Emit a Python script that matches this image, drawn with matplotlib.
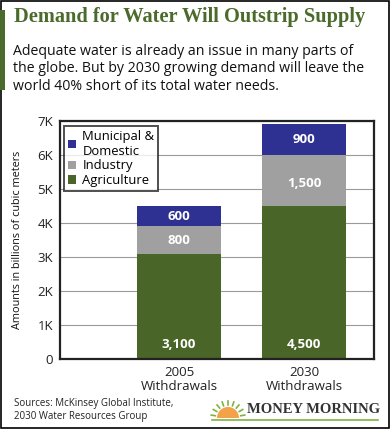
import matplotlib
matplotlib.use("Agg")
import matplotlib.pyplot as plt
from matplotlib.patches import Rectangle, Wedge
import numpy as np

# data
years = ["2005\nWithdrawals", "2030\nWithdrawals"]
agriculture = [3100, 4500]
industry = [800, 1500]
municipal = [600, 900]
yticks = [0, 1000, 2000, 3000, 4000, 5000, 6000, 7000]
ytick_labels = ["0", "1K", "2K", "3K", "4K", "5K", "6K", "7K"]

blue, grey, green = "#2e3192", "#a0a0a0", "#496628"
title_green = "#4b6b2c"
W, H = 390, 429

fig = plt.figure(figsize=(3.9, 4.29), dpi=100)

# border + left accent bar
fig.patches.append(Rectangle((0.002, 0.002), 0.996, 0.996, transform=fig.transFigure,
                             fill=False, ec="black", lw=1.2))
fig.patches.append(Rectangle((0, 1 - 90 / H), 5 / W, 80 / H, transform=fig.transFigure,
                             fc=title_green, ec="none"))

fig.text(14 / W, 1 - 17 / H, "Demand for Water Will Outstrip Supply", fontsize=14.7,
         family="Liberation Serif", weight="bold", color=title_green, va="center")
fig.text(13 / W, 1 - 69 / H,
         "Adequate water is already an issue in many parts of\n"
         "the globe. But by 2030 growing demand will leave the\n"
         "world 40% short of its total water needs.",
         fontsize=10.2, family="Open Sans", color="#111111", va="center", linespacing=1.2)

ax = fig.add_axes([60 / W, 70 / H, 314 / W, 238 / H])
x = np.arange(len(years))
w = 0.67
b1 = ax.bar(x, agriculture, w, color=green, label="Agriculture", zorder=2)
b2 = ax.bar(x, industry, w, bottom=agriculture, color=grey, label="Industry", zorder=2)
bottom2 = [a + i for a, i in zip(agriculture, industry)]
b3 = ax.bar(x, municipal, w, bottom=bottom2, color=blue, label="Municipal &\nDomestic", zorder=2)

for i in range(len(years)):
    ax.text(x[i], 440, f"{agriculture[i]:,}", ha="center", va="center", color="white",
            fontsize=9.5, weight="bold", family="Open Sans")
    ax.text(x[i], agriculture[i] + industry[i] / 2 - 100 * (industry[i] > 1000),
            f"{industry[i]:,}", ha="center",
            va="center", color="white", fontsize=9.5, weight="bold", family="Open Sans")
    ax.text(x[i], bottom2[i] + municipal[i] / 2, f"{municipal[i]:,}", ha="center",
            va="center", color="white", fontsize=9.5, weight="bold", family="Open Sans")

ax.set_xlim(-0.952, 1.56)
ax.set_ylim(0, 7000)
ax.set_yticks(yticks)
ax.set_yticklabels(ytick_labels, family="Open Sans", fontsize=9.5, color="#222222")
ax.set_xticks(x)
ax.set_xticklabels(years, family="Open Sans", fontsize=9.5, color="#222222", linespacing=1.15)
ax.tick_params(length=0, pad=5)
ax.grid(axis="y", color="#9a9a9a", lw=0.8, zorder=0)
for s in ax.spines.values():
    s.set_linewidth(1.6)
    s.set_color("#222222")
ax.set_ylabel("Amounts in billions of cubic meters", family="Open Sans", fontsize=7.8,
              labelpad=10, color="#111111")

leg = ax.legend(handles=[b3, b2, b1], loc="upper left", bbox_to_anchor=(0.005, 0.99),
                prop={"family": "Open Sans", "size": 9.4}, frameon=True, fancybox=False,
                handlelength=0.6, handleheight=0.6, handletextpad=0.5, borderpad=0.3,
                labelspacing=0.12, borderaxespad=0.2)
leg.get_frame().set_edgecolor("#222222")
leg.get_frame().set_linewidth(1.4)
leg.set_zorder(5)

fig.text(14 / W, 1 - 410 / H, "Sources: McKinsey Global Institute,\n2030 Water Resources Group",
         fontsize=7, family="Open Sans", color="#222222", va="center", linespacing=1.35)

# Money Morning logo
lax = fig.add_axes([205 / W, 0, 185 / W, 40 / H])
lax.set_xlim(205, 390)
lax.set_ylim(429, 389)
lax.axis("off")
lax.add_patch(Wedge((228, 418), 11, 180, 360, fc="#f4a24a", ec="none"))
for a in np.linspace(190, 350, 9):
    t = np.deg2rad(a)
    lax.plot([228 + 13 * np.cos(t), 228 + 17 * np.cos(t)],
             [418 + 13 * np.sin(t), 418 + 17 * np.sin(t)], color="#7fb241", lw=1.2)
lax.plot([212, 378], [420.5, 420.5], color="#7fb241", lw=1.2)
lax.text(247, 410, "MONEY MORNING", fontsize=10.5, family="Liberation Serif", weight="bold",
         color="#333333", va="center", ha="left")

fig.savefig("out.png", dpi=100)
